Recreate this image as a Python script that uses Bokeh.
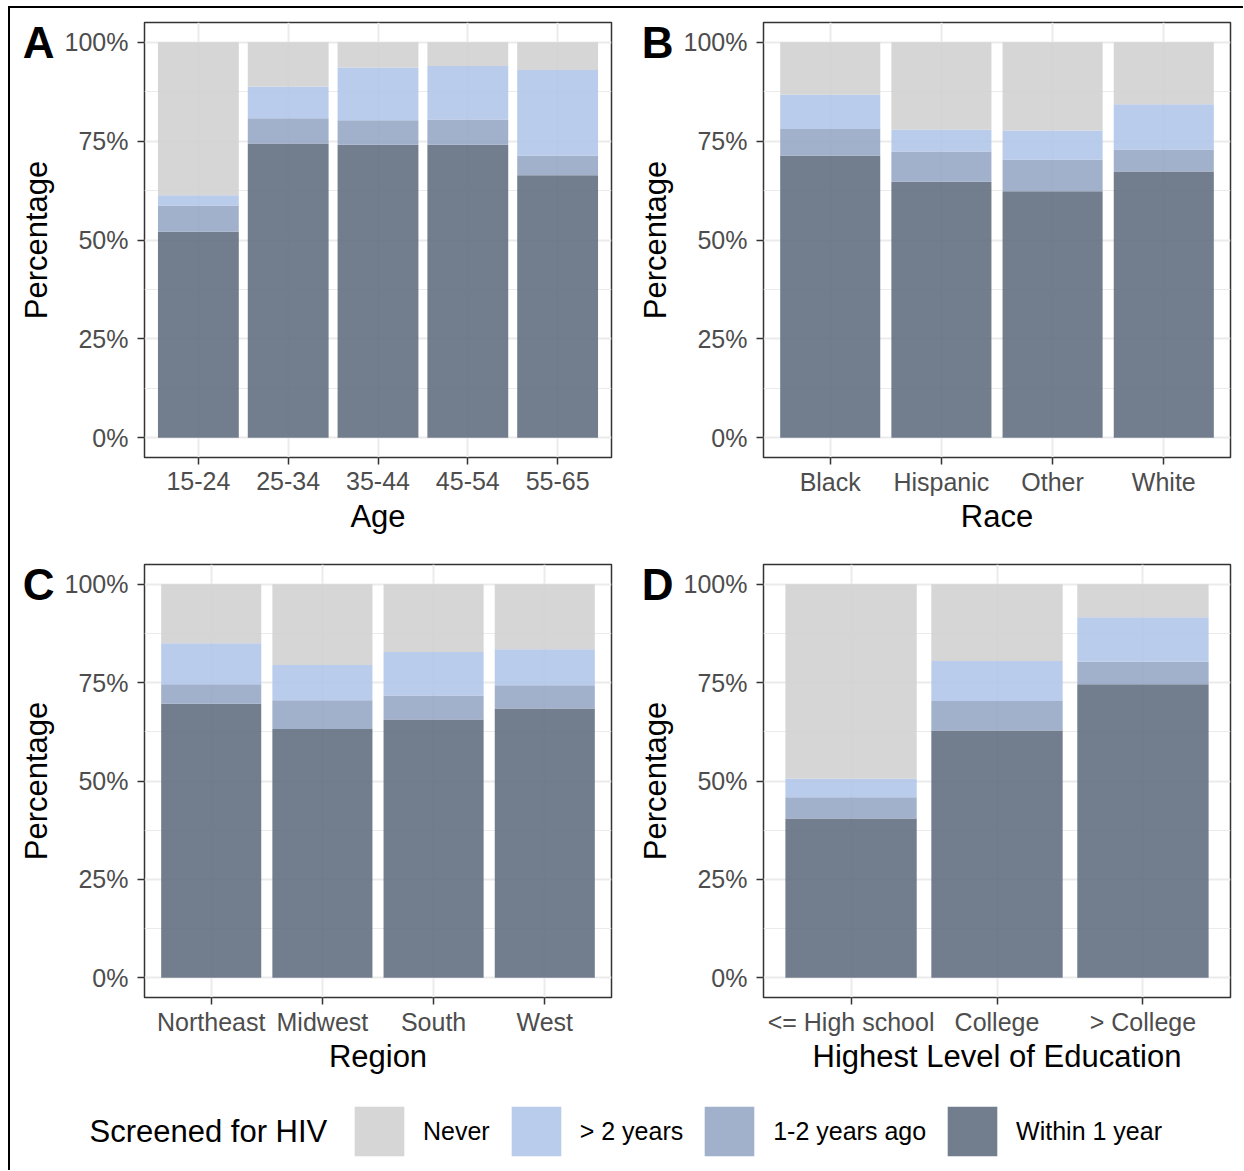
from bokeh.plotting import figure
from bokeh.models import (Range1d, FixedTicker, PrintfTickFormatter, Label, Legend,
                          LegendItem, ColumnDataSource, LinearAxis)
from bokeh.layouts import row, column
from bokeh.embed import file_html
from bokeh.resources import INLINE

# ---------------- data (percent of respondents) ----------------
stack_keys = ["within", "one_two", "over_two", "never"]
stack_labels = ["Within 1 year", "1-2 years ago", "> 2 years", "Never"]

age_cats = ["15-24", "25-34", "35-44", "45-54", "55-65"]
age_within = [52.1, 74.4, 74.1, 74.1, 66.4]
age_one_two = [6.6, 6.4, 6.2, 6.4, 4.9]
age_over_two = [2.6, 8.0, 13.3, 13.5, 21.7]
age_never = [38.7, 11.2, 6.4, 6.0, 7.0]

race_cats = ["Black", "Hispanic", "Other", "White"]
race_within = [71.3, 64.7, 62.3, 67.3]
race_one_two = [6.8, 7.7, 8.0, 5.6]
race_over_two = [8.6, 5.5, 7.4, 11.4]
race_never = [13.3, 22.1, 22.3, 15.7]

region_cats = ["Northeast", "Midwest", "South", "West"]
region_within = [69.6, 63.2, 65.6, 68.4]
region_one_two = [5.0, 7.3, 6.1, 5.9]
region_over_two = [10.4, 9.0, 11.1, 9.2]
region_never = [15.0, 20.5, 17.2, 16.5]

edu_cats = ["<= High school", "College", "> College"]
edu_within = [40.5, 62.8, 74.6]
edu_one_two = [5.4, 7.5, 5.7]
edu_over_two = [4.7, 10.2, 11.3]
edu_never = [49.4, 19.5, 8.4]

y_ticks = [0, 25, 50, 75, 100]
y_minor = [12.5, 37.5, 62.5, 87.5]
letter_at = [100]

# ---------------- styles ----------------
colors = ["#637081", "#98a8c5", "#b1c7e9", "#d1d1d1"]
FONT = "Liberation Sans"
ALPHA = 0.9


def make_panel(letter, cats, within, one_two, over_two, never, xlabel,
               width, height, mb_left, mb_right, mb_top, mb_bottom,
               xl_standoff, xt_standoff):
    n = len(cats)
    xs = list(range(1, n + 1))
    src = ColumnDataSource(dict(x=xs, within=within, one_two=one_two,
                                over_two=over_two, never=never))
    p = figure(width=width, height=height, output_backend="svg", toolbar_location=None,
               x_range=Range1d(0.4, n + 0.6), y_range=Range1d(-5, 105),
               min_border_left=mb_left, min_border_right=mb_right,
               min_border_top=mb_top, min_border_bottom=mb_bottom)
    p.vbar_stack(stack_keys, x="x", width=0.9, source=src,
                 fill_color=colors, fill_alpha=ALPHA, line_color=None)

    p.outline_line_color = "#333333"
    p.outline_line_width = 1.5
    p.background_fill_color = "white"
    p.border_fill_color = "white"

    p.xgrid.ticker = FixedTicker(ticks=xs)
    p.ygrid.ticker = FixedTicker(ticks=y_ticks, minor_ticks=y_minor)
    for g in (p.xgrid[0], p.ygrid[0]):
        g.grid_line_color = "#ebebeb"
        g.grid_line_width = 2
    p.ygrid.minor_grid_line_color = "#ebebeb"
    p.ygrid.minor_grid_line_width = 1

    xa = p.xaxis[0]
    xa.ticker = FixedTicker(ticks=xs)
    xa.major_label_overrides = {i: c for i, c in zip(xs, cats)}
    ya = p.yaxis[0]
    ya.ticker = FixedTicker(ticks=y_ticks, minor_ticks=y_minor)
    ya.formatter = PrintfTickFormatter(format="%d%%")
    xa.axis_label = xlabel
    for ax in (xa, ya):
        ax.axis_line_color = None
        ax.major_tick_line_color = "#333333"
        ax.major_tick_line_width = 1.5
        ax.major_tick_out = 7
        ax.major_tick_in = 0
        ax.minor_tick_line_color = None
        ax.major_label_text_font = FONT
        ax.major_label_text_font_size = "25px"
        ax.major_label_text_color = "#4d4d4d"
        ax.axis_label_text_font = FONT
        ax.axis_label_text_font_size = "31px"
        ax.axis_label_text_font_style = "normal"
        ax.axis_label_text_color = "black"
    xa.major_label_standoff = xl_standoff
    xa.axis_label_standoff = xt_standoff
    ya.major_label_standoff = 9

    # outer left axis: carries the panel letter (at the 100% row) and the y title
    outer = LinearAxis(ticker=FixedTicker(ticks=letter_at), major_label_overrides={100: letter},
                       axis_label="Percentage")
    outer.axis_line_color = None
    outer.major_tick_line_color = None
    outer.major_tick_out = 0
    outer.major_tick_in = 0
    outer.minor_tick_line_color = None
    outer.major_label_standoff = 7
    outer.major_label_text_font = FONT
    outer.major_label_text_font_size = "44px"
    outer.major_label_text_font_style = "bold"
    outer.major_label_text_color = "black"
    outer.axis_label_text_font = FONT
    outer.axis_label_text_font_size = "31px"
    outer.axis_label_text_font_style = "normal"
    outer.axis_label_text_color = "black"
    outer.axis_label_standoff = -34
    p.add_layout(outer, "left")
    return p


pA = make_panel("A", age_cats, age_within, age_one_two, age_over_two,
                age_never, "Age", 611, 542, 134, 10, 14, 93, 7, 6)
pB = make_panel("B", race_cats, race_within, race_one_two, race_over_two,
                race_never, "Race", 622, 542, 142, 13, 14, 93, 3, 0)
pC = make_panel("C", region_cats, region_within, region_one_two,
                region_over_two, region_never, "Region", 611, 540, 134, 10, 14, 93, 3, 0)
pD = make_panel("D", edu_cats, edu_within, edu_one_two, edu_over_two,
                edu_never, "Highest Level of Education", 622, 540, 142, 13, 14, 93, 3, 0)

# ---------------- legend strip ----------------
LW, LH = 1233, 80
pl = figure(width=LW, height=LH, output_backend="svg", toolbar_location=None,
            x_range=Range1d(0, LW), y_range=Range1d(0, LH),
            x_axis_location=None, y_axis_location=None,
            min_border_left=0, min_border_right=0, min_border_top=0, min_border_bottom=0)
pl.grid.visible = False
pl.outline_line_color = None
leg_src = ColumnDataSource(dict(x=list(range(1, len(age_cats) + 1)), within=age_within,
                                one_two=age_one_two, over_two=age_over_two, never=age_never))
leg_rs = pl.vbar_stack(stack_keys, x="x", width=0.9, source=leg_src,
                       fill_color=colors, fill_alpha=ALPHA, line_color=None)
for r in leg_rs:
    r.visible = False
items = [LegendItem(label=lab, renderers=[r]) for lab, r in zip(stack_labels, leg_rs)][::-1]
legend = Legend(items=items, location=(338, 8), orientation="horizontal",
                glyph_width=62, glyph_height=62, label_standoff=13, spacing=15,
                padding=0, margin=0, border_line_color=None, background_fill_alpha=0,
                inactive_fill_alpha=0,
                label_text_font=FONT, label_text_font_size="25px", label_text_color="black")
pl.add_layout(legend)
pl.add_layout(Label(x=79, y=39, text="Screened for HIV", text_font=FONT,
                    text_font_size="31px", text_color="black", text_baseline="middle"))

layout = column(row(pA, pB), row(pC, pD), pl,
                styles={"margin-left": "8px", "margin-top": "6px",
                        "border-top": "2px solid black", "border-left": "2px solid black"})

open("out.html", "w").write(file_html(layout, INLINE))
